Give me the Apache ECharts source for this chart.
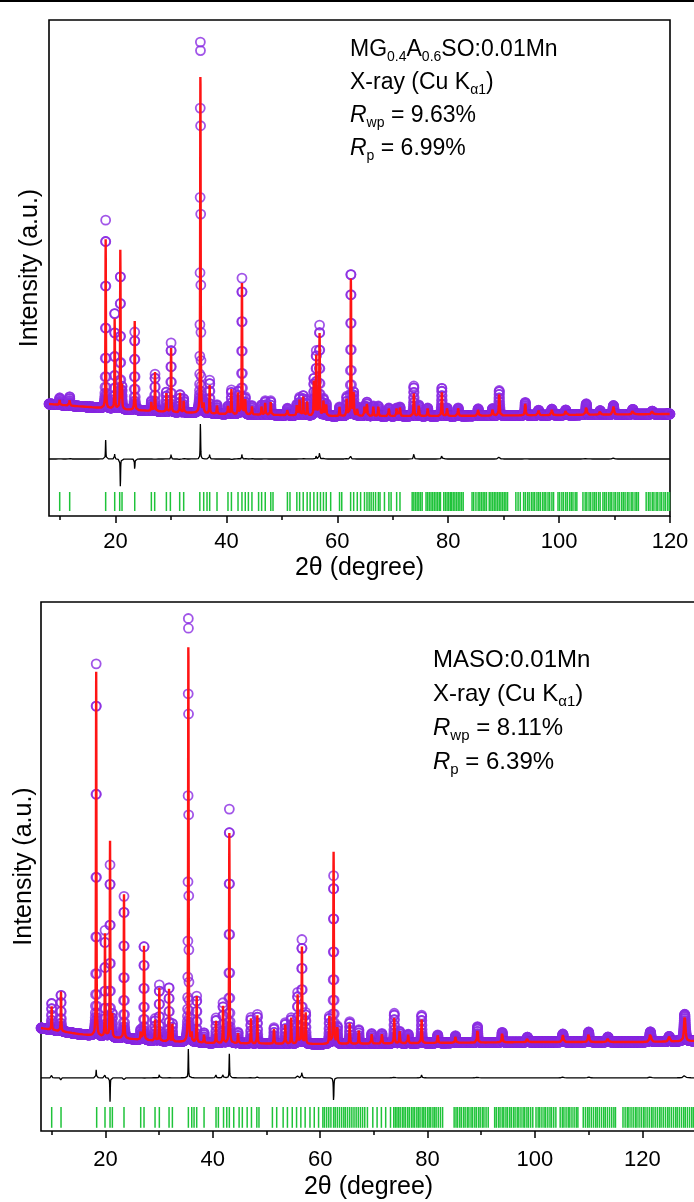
<!DOCTYPE html>
<html>
<head>
<meta charset="utf-8">
<title>Rietveld refinement plots</title>
<script src="https://cdn.jsdelivr.net/npm/echarts@6/dist/echarts.min.js"></script>
<style>
  html, body { margin: 0; padding: 0; background: #ffffff; }
  #chart { width: 694px; height: 1202px; }
</style>
</head>
<body>
<div id="chart"></div>
<script>
// ---------------- data ----------------
// 2θ axis tick labels
const majorTicks = [20, 40, 60, 80, 100, 120];
const minorTicksTop = [10, 30, 50, 70, 90, 110];
const minorTicksBottom = [10, 30, 50, 70, 90, 110, 130];

// MG0.4A0.6SO:0.01Mn — background knots (2θ, counts)
const topBgAngle = [8, 20, 30, 40, 60, 80, 100, 120];
const topBgCounts = [800, 675, 600, 550, 500, 500, 525, 550];
// peak positions (2θ) with observed / calculated net intensities (counts)
const topPeakPos = [9.93, 11.73, 18.22, 19.85, 20.87, 21.17, 23.46, 26.46, 27.12, 29.17, 30.02, 31.63, 32.29, 35.308, 35.9, 36.98, 38.3, 40.28, 40.9, 42.09, 42.8, 43.4, 44.6, 46.35, 47.0, 48.0, 51.0, 52.7, 53.2, 53.85, 54.56, 55.77, 56.2, 56.8, 57.5, 58.0, 60.4, 61.7, 62.45, 62.95, 63.6, 64.9, 65.35, 66.5, 67.4, 69.3, 70.7, 71.3, 73.8, 74.7, 76.3, 78.85, 79.8, 81.8, 85.4, 88.0, 89.2, 93.9, 96.3, 98.7, 101.2, 104.9, 107.4, 109.8, 113.3, 116.8];
const topObs = [175, 225, 4700, 2450, 3400, 525, 1950, 250, 925, 500, 1725, 450, 350, 9450, 275, 825, 225, 200, 600, 575, 3400, 425, 225, 250, 350, 350, 175, 275, 450, 500, 400, 925, 1600, 2250, 425, 300, 225, 475, 3600, 575, 225, 250, 350, 250, 250, 200, 200, 225, 750, 275, 200, 700, 200, 200, 175, 175, 625, 325, 125, 150, 125, 275, 100, 225, 125, 75];
const topCalc = [125, 175, 4225, 2325, 4100, 575, 2225, 250, 975, 475, 1600, 500, 300, 8560, 250, 700, 225, 200, 625, 550, 3275, 400, 200, 250, 325, 350, 175, 275, 425, 475, 375, 875, 1500, 2050, 400, 300, 225, 450, 3500, 575, 225, 250, 350, 250, 250, 200, 200, 225, 600, 275, 200, 600, 200, 200, 175, 175, 550, 300, 125, 150, 125, 225, 100, 200, 125, 75];
// Bragg reflection positions (2θ)
const topReflections = [9.93, 11.73, 18.22, 19.85, 20.75, 21.17, 23.46, 26.46, 27.06, 29.17, 29.89, 31.57, 32.29, 35.2, 35.9, 36.5, 36.98, 38.3, 40.28, 40.9, 42.09, 42.8, 43.4, 43.96, 44.6, 45.8, 46.35, 47.0, 48.0, 48.4, 51.0, 51.46, 52.7, 53.2, 53.85, 54.56, 55.1, 55.77, 56.4, 56.96, 57.5, 58.0, 58.8, 60.4, 60.8, 62.4, 62.95, 63.6, 64.2, 64.9, 65.35, 65.74, 66.1, 66.5, 66.9, 67.4, 67.7, 68.5, 69.3, 69.7, 70.7, 71.3, 73.5, 73.8, 74.1, 74.4, 74.7, 75.0, 75.3, 76.0, 76.3, 76.6, 76.9, 77.2, 77.5, 77.8, 78.1, 78.4, 78.6, 79.2, 79.5, 79.8, 80.1, 80.4, 80.6, 80.9, 81.2, 81.5, 81.8, 82.1, 82.4, 82.7, 84.3, 84.6, 85.0, 85.4, 85.7, 86.0, 86.3, 86.6, 86.9, 87.4, 87.7, 88.0, 88.3, 88.6, 88.9, 89.2, 89.5, 89.8, 90.1, 90.4, 90.7, 92.2, 92.6, 93.0, 93.6, 93.9, 94.3, 94.6, 95.0, 95.3, 95.6, 96.0, 96.3, 96.6, 97.0, 97.3, 97.6, 98.0, 98.3, 98.7, 99.0, 99.8, 100.1, 100.5, 100.8, 101.2, 101.5, 101.9, 102.2, 102.5, 102.9, 103.2, 104.3, 104.7, 105.0, 105.4, 105.7, 106.1, 106.4, 106.7, 107.1, 107.4, 107.9, 108.2, 108.5, 108.9, 109.2, 109.5, 109.9, 110.2, 110.6, 110.9, 111.3, 111.6, 111.9, 112.3, 112.6, 113.0, 113.3, 113.7, 114.0, 114.3, 115.7, 116.1, 116.4, 116.8, 117.1, 117.5, 117.8, 118.2, 118.5, 118.9, 119.2, 119.6, 119.9];

// MASO:0.01Mn — background knots (2θ, counts)
const botBgAngle = [8, 15, 20, 30, 40, 60, 80, 100, 120, 130];
const botBgCounts = [575, 425, 350, 250, 200, 175, 200, 225, 225, 250];
const botPeakPos = [9.99, 11.73, 18.28, 19.92, 20.86, 21.29, 23.46, 26.57, 27.19, 29.24, 30.04, 31.85, 32.47, 35.448, 36.08, 37.0, 38.37, 40.6, 41.9, 43.08, 44.7, 47.1, 48.3, 51.4, 53.5, 54.6, 55.8, 56.6, 57.3, 61.7, 62.5, 63.2, 65.5, 67.2, 69.6, 71.5, 73.8, 74.8, 76.4, 78.9, 81.9, 85.2, 89.3, 93.9, 98.6, 105.2, 110.0, 113.6, 121.5, 125.0, 127.9];
const botObs = [675, 925, 9300, 2650, 4300, 575, 3550, 250, 2400, 550, 1400, 1375, 450, 10790, 225, 1150, 250, 625, 1000, 5850, 275, 650, 725, 400, 525, 650, 1275, 2600, 775, 675, 4200, 425, 550, 350, 250, 250, 750, 300, 225, 700, 200, 175, 400, 250, 125, 200, 250, 125, 250, 125, 675];
const botCalc = [600, 1025, 9100, 2575, 4900, 575, 3600, 250, 2425, 525, 1325, 1350, 450, 10055, 225, 1150, 250, 550, 925, 5250, 275, 625, 700, 400, 525, 650, 1225, 2425, 775, 675, 4800, 425, 550, 350, 250, 250, 675, 300, 225, 625, 200, 175, 350, 250, 125, 175, 225, 125, 225, 125, 600];
const botReflections = [9.99, 11.73, 18.37, 19.92, 20.86, 21.29, 23.46, 26.57, 27.19, 29.24, 30.04, 31.85, 32.47, 35.45, 36.08, 36.51, 37.0, 38.37, 40.6, 41.04, 42.0, 42.6, 43.08, 43.9, 44.9, 45.5, 46.4, 47.2, 48.2, 48.6, 51.1, 51.9, 53.1, 53.9, 54.8, 55.6, 56.4, 57.2, 58.1, 58.9, 59.7, 60.5, 60.8, 61.2, 61.6, 62.0, 62.5, 62.8, 63.2, 63.6, 64.0, 64.4, 64.7, 65.1, 65.5, 65.9, 66.3, 66.7, 67.1, 67.5, 67.9, 68.3, 68.8, 69.8, 70.6, 71.4, 72.2, 73.1, 73.7, 74.0, 74.3, 74.6, 74.9, 75.3, 75.6, 75.9, 76.3, 76.6, 77.0, 77.3, 77.6, 78.0, 78.3, 78.6, 79.0, 79.3, 79.6, 80.0, 80.3, 80.6, 81.0, 81.3, 81.6, 82.0, 82.4, 82.8, 84.95, 85.3, 85.6, 86.0, 86.3, 86.7, 87.0, 87.4, 87.7, 88.1, 88.4, 88.8, 89.1, 89.5, 89.8, 90.2, 90.5, 90.9, 91.3, 92.5, 92.8, 93.2, 93.5, 93.9, 94.2, 94.6, 94.9, 95.3, 95.6, 96.0, 96.3, 96.7, 97.0, 97.4, 97.8, 98.1, 98.5, 98.8, 99.2, 99.6, 100.2, 100.6, 100.9, 101.3, 101.7, 102.0, 102.4, 102.8, 103.1, 103.5, 103.9, 104.7, 105.1, 105.4, 105.8, 106.2, 106.5, 106.9, 107.3, 107.7, 108.0, 109.0, 109.4, 109.8, 110.1, 110.5, 110.9, 111.3, 111.6, 112.0, 112.4, 112.8, 113.1, 113.5, 113.9, 114.3, 114.7, 115.0, 116.4, 116.8, 117.2, 117.5, 117.9, 118.3, 118.7, 119.0, 119.4, 119.8, 120.2, 120.5, 120.9, 121.3, 121.7, 122.0, 122.4, 122.8, 123.2, 123.5, 123.9, 124.3, 124.7, 125.0, 125.4, 125.8, 126.2, 126.5, 126.9, 127.3, 127.7, 128.0, 128.4, 128.8, 129.2, 129.5];

// ---------------- profile model ----------------
const STEP = 0.02;                          // scan step, degrees 2θ
const CAGLIOTI = { U: 0.03, V: -0.01, W: 0.012 };
const ETA = 0.62;                           // Lorentzian fraction of the pseudo-Voigt

function fwhm(tt) {
  const t = Math.tan(tt * Math.PI / 360);
  return Math.sqrt(CAGLIOTI.U * t * t + CAGLIOTI.V * t + CAGLIOTI.W);
}
function pseudoVoigt(d, w) {
  const r = (d * d) / (w * w);
  return (1 - ETA) * Math.exp(-4 * Math.LN2 * r) + ETA / (1 + 4 * r);
}
function bgAt(x, ang, cnt) {
  if (x <= ang[0]) return cnt[0];
  for (let i = 1; i < ang.length; i++) {
    if (x <= ang[i]) {
      const f = (x - ang[i - 1]) / (ang[i] - ang[i - 1]);
      return cnt[i - 1] + f * (cnt[i] - cnt[i - 1]);
    }
  }
  return cnt[cnt.length - 1];
}
function buildPattern(xMin, xMax, bgAng, bgCnt, pos, hObs, hCalc, diffOffset) {
  const obs = [], calc = [], diff = [];
  const n = Math.round((xMax - xMin) / STEP);
  const widths = pos.map(fwhm);
  for (let i = 0; i <= n; i++) {
    const x = +(xMin + i * STEP).toFixed(3);
    const b = bgAt(x, bgAng, bgCnt);
    let so = 0, sc = 0;
    for (let j = 0; j < pos.length; j++) {
      const d = x - pos[j];
      if (Math.abs(d) > 3) continue;
      const p = pseudoVoigt(d, widths[j]);
      so += hObs[j] * p;
      sc += hCalc[j] * p;
    }
    obs.push([x, b + so]);
    calc.push([x, b + sc]);
    diff.push([x, so - sc + diffOffset]);
  }
  return { obs, calc, diff };
}

// ---------------- layout & style ----------------
const FONT = 'Liberation Sans, Arial, Helvetica, sans-serif';
const PURPLE = '#8a2be2';
const RED = '#ff1414';
const GREEN = '#1fc33a';

const panels = [
  { grid: { left: 49, top: 20, width: 621, height: 496 }, xMin: 8, xMax: 120, yMin: -2000, yMax: 10400,
    diffOffset: -575, tickTop: -1400, tickBottom: -1875, minor: minorTicksTop, labelMargin: 15, nameGap: 40, yNameGap: 6,
    bgA: topBgAngle, bgC: topBgCounts, pos: topPeakPos, obs: topObs, calc: topCalc, refl: topReflections },
  { grid: { left: 41, top: 602, width: 655, height: 529 }, xMin: 8, xMax: 130, yMin: -2000, yMax: 11225,
    diffOffset: -670, tickTop: -1400, tickBottom: -1920, minor: minorTicksBottom, labelMargin: 18, nameGap: 44, yNameGap: 4,
    bgA: botBgAngle, bgC: botBgCounts, pos: botPeakPos, obs: botObs, calc: botCalc, refl: botReflections }
];

const grids = [], xAxes = [], yAxes = [], series = [];
panels.forEach((p, k) => {
  grids.push(Object.assign({ show: true, borderColor: '#000', borderWidth: 1.6, backgroundColor: 'transparent',
    containLabel: false, outerBoundsMode: 'none' }, p.grid));
  // main 2θ axis with labelled ticks
  xAxes.push({
    type: 'value', gridIndex: k, min: p.xMin, max: p.xMax, position: 'bottom',
    name: '2θ (degree)', nameLocation: 'middle', nameGap: p.nameGap,
    nameTextStyle: { fontFamily: FONT, fontSize: 25, color: '#000' },
    axisLine: { show: false, onZero: false },
    axisTick: { show: true, inside: false, length: 7, lineStyle: { color: '#000', width: 1.5 }, customValues: majorTicks },
    axisLabel: { show: true, margin: p.labelMargin, fontFamily: FONT, fontSize: 22, color: '#000', customValues: majorTicks },
    splitLine: { show: false }
  });
  // companion axis carrying the short intermediate ticks
  xAxes.push({
    type: 'value', gridIndex: k, min: p.xMin, max: p.xMax, position: 'bottom', offset: 0,
    axisLine: { show: false, onZero: false }, axisLabel: { show: false }, splitLine: { show: false },
    axisTick: { show: true, inside: false, length: 4, lineStyle: { color: '#000', width: 1.5 }, customValues: p.minor }
  });
  yAxes.push({
    type: 'value', gridIndex: k, min: p.yMin, max: p.yMax,
    name: 'Intensity (a.u.)', nameLocation: 'middle', nameGap: p.yNameGap,
    nameTextStyle: { fontFamily: FONT, fontSize: 25, color: '#000' },
    axisLine: { show: false, onZero: false }, axisTick: { show: false }, axisLabel: { show: false }, splitLine: { show: false }
  });

  const pat = buildPattern(p.xMin, p.xMax, p.bgA, p.bgC, p.pos, p.obs, p.calc, p.diffOffset);
  const xi = k * 2, yi = k;
  series.push({
    type: 'scatter', name: 'Observed', xAxisIndex: xi, yAxisIndex: yi, data: pat.obs,
    symbol: 'circle', symbolSize: 9,
    itemStyle: { color: 'rgba(0,0,0,0)', borderColor: PURPLE, borderWidth: 1.8 },
    progressive: 0, large: false, silent: true, z: 2
  });
  series.push({
    type: 'line', name: 'Calculated', xAxisIndex: xi, yAxisIndex: yi, data: pat.calc,
    showSymbol: false, symbol: 'none', sampling: null,
    lineStyle: { color: RED, width: 2.4 }, progressive: 0, silent: true, z: 3
  });
  series.push({
    type: 'line', name: 'Difference', xAxisIndex: xi, yAxisIndex: yi, data: pat.diff,
    showSymbol: false, symbol: 'none',
    lineStyle: { color: '#000', width: 1.3 }, progressive: 0, silent: true, z: 3
  });
  const top = p.tickTop, bottom = p.tickBottom;
  series.push({
    type: 'custom', name: 'Bragg positions', xAxisIndex: xi, yAxisIndex: yi,
    data: p.refl.map(v => [v, top]),
    renderItem: (params, api) => {
      const a = api.coord([api.value(0), top]);
      const b = api.coord([api.value(0), bottom]);
      return { type: 'line', shape: { x1: a[0], y1: a[1], x2: b[0], y2: b[1] },
               style: { stroke: GREEN, lineWidth: 1.5 } };
    },
    silent: true, z: 3
  });
});

// annotation text blocks (rich text for subscripts)
function richStyles(size, sub) {
  const lh = Math.round(size * 1.27);
  return {
    n: { fontFamily: FONT, fontSize: size, lineHeight: lh, fill: '#000' },
    i: { fontFamily: FONT, fontSize: size, lineHeight: lh, fontStyle: 'italic', fill: '#000' },
    s: { fontFamily: FONT, fontSize: sub, lineHeight: sub, verticalAlign: 'bottom', fill: '#000' }
  };
}
function textLine(left, top, text, size, sub) {
  return { type: 'text', left: left, top: top, silent: true, z: 10,
           style: { text: text, rich: richStyles(size, sub), fill: '#000', fontFamily: FONT, fontSize: size } };
}
const topLines = [
  '{n|MG}{s|0.4}{n|A}{s|0.6}{n|SO:0.01Mn}',
  '{n|X-ray (Cu K}{s|α1}{n|)}',
  '{i|R}{s|wp}{n| = 9.63%}',
  '{i|R}{s|p}{n| = 6.99%}'
];
const botLines = [
  '{n|MASO:0.01Mn}',
  '{n|X-ray (Cu K}{s|α1}{n|)}',
  '{i|R}{s|wp}{n| = 8.11%}',
  '{i|R}{s|p}{n| = 6.39%}'
];
const graphics = [
  { type: 'line', shape: { x1: 0, y1: 1, x2: 694, y2: 1 }, style: { stroke: '#000', lineWidth: 2 }, silent: true }
];
topLines.forEach((t, i) => graphics.push(textLine(350, 38 + i * 33, t, 23, 14)));
botLines.forEach((t, i) => graphics.push(textLine(433, 648 + i * 34, t, 24, 15)));

const chart = echarts.init(document.getElementById('chart'), null, { renderer: 'canvas' });
chart.setOption({
  animation: false,
  backgroundColor: '#ffffff',
  grid: grids,
  xAxis: xAxes,
  yAxis: yAxes,
  series: series,
  graphic: graphics
});
</script>
</body>
</html>
